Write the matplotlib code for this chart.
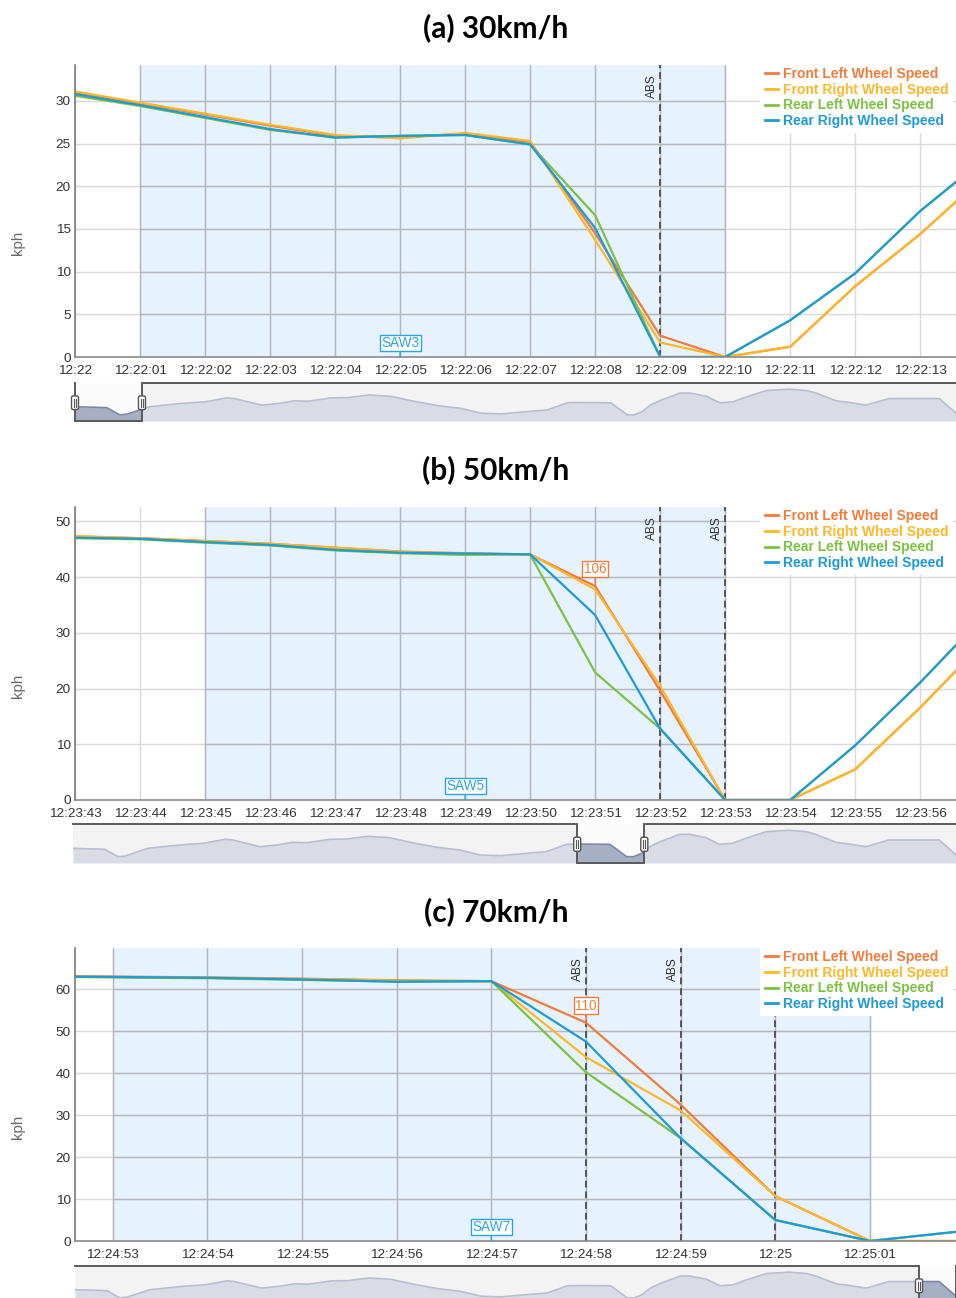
import numpy as np
import matplotlib
matplotlib.use("Agg")
import matplotlib.pyplot as plt
from matplotlib.patches import Rectangle, FancyBboxPatch

# ---------------------------------------------------------------- data
series_names = ["Front Left Wheel Speed", "Front Right Wheel Speed",
                "Rear Left Wheel Speed", "Rear Right Wheel Speed"]
series_colors = ["#f07c3c", "#fcb82a", "#7cc242", "#1e9bd6"]

# (a) 30 km/h, seconds after 12:22:00
t_a = [0, 1, 2, 3, 4, 5, 6, 7, 8, 9, 10, 11, 12, 13, 14]
fl_a = [31.0, 29.7, 28.4, 27.1, 25.9, 25.8, 26.1, 25.2, 14.5, 2.5, 0, 1.2, 8.3, 14.4, 21.3]
fr_a = [31.1, 29.8, 28.5, 27.2, 26.0, 25.6, 26.25, 25.3, 13.7, 1.7, 0, 1.2, 8.3, 14.4, 21.3]
rl_a = [30.6, 29.4, 28.0, 26.6, 25.7, 25.9, 26.0, 24.9, 16.6, 0, 0, 4.3, 9.8, 17.1, 23.3]
rr_a = [30.8, 29.5, 28.1, 26.7, 25.7, 25.9, 26.0, 24.9, 15.1, 0, 0, 4.3, 9.8, 17.1, 23.3]
ticks_a = ["12:22", "12:22:01", "12:22:02", "12:22:03", "12:22:04", "12:22:05",
           "12:22:06", "12:22:07", "12:22:08", "12:22:09", "12:22:10",
           "12:22:11", "12:22:12", "12:22:13"]

# (b) 50 km/h, seconds after 12:23:43
t_b = [0, 1, 2, 3, 4, 5, 6, 7, 8, 9, 10, 11, 12, 13, 14]
fl_b = [47.3, 47.0, 46.5, 46.0, 45.3, 44.6, 44.3, 44.1, 38.4, 19.6, 0, 0, 5.5, 16.6, 28.6]
fr_b = [47.4, 47.0, 46.5, 46.0, 45.3, 44.55, 44.2, 44.1, 37.8, 20.5, 0, 0, 5.5, 16.6, 28.6]
rl_b = [47.0, 46.8, 46.2, 45.7, 44.8, 44.3, 44.0, 44.1, 22.9, 12.8, 0, 0, 9.8, 21.1, 33.3]
rr_b = [47.1, 46.9, 46.3, 45.8, 44.9, 44.4, 44.25, 44.1, 33.2, 12.8, 0, 0, 9.8, 21.1, 33.3]
ticks_b = ["12:23:43", "12:23:44", "12:23:45", "12:23:46", "12:23:47", "12:23:48",
           "12:23:49", "12:23:50", "12:23:51", "12:23:52", "12:23:53",
           "12:23:54", "12:23:55", "12:23:56"]

# (c) 70 km/h, seconds after 12:24:53
t_c = [-1, 0, 1, 2, 3, 4, 5, 6, 7, 8, 9]
fl_c = [63.3, 63.0, 62.8, 62.5, 62.1, 61.9, 52.0, 32.5, 10.7, 0, 0]
fr_c = [63.2, 62.9, 62.7, 62.4, 62.0, 61.9, 43.8, 31.1, 10.7, 0, 0]
rl_c = [63.0, 62.8, 62.6, 62.2, 61.8, 61.9, 40.2, 24.5, 5.0, 0, 2.4]
rr_c = [63.1, 62.9, 62.7, 62.3, 61.75, 61.9, 47.5, 24.5, 5.0, 0, 2.4]
ticks_c = ["12:24:53", "12:24:54", "12:24:55", "12:24:56", "12:24:57",
           "12:24:58", "12:24:59", "12:25", "12:25:01"]

titles = ["(a) 30km/h", "(b) 50km/h", "(c) 70km/h"]
abs_times = [[9], [9, 10], [5, 6, 7]]
braking_bands = [(1, 10), (2, 10), (0, 8)]
saw_flags = [(5, "SAW3"), (6, "SAW5"), (4, "SAW7")]
wheel_flags = [None, (8, "106"), (5, "110")]

# overview (navigator) trace of the whole recording, position 0..1, level 0..1
overview_pos = [0.000, 0.036, 0.051, 0.059, 0.085, 0.121, 0.148, 0.172, 0.181,
                0.212, 0.231, 0.249, 0.265, 0.291, 0.310, 0.334, 0.359, 0.382,
                0.412, 0.438, 0.461, 0.484, 0.514, 0.536, 0.559, 0.570, 0.608,
                0.627, 0.635, 0.644, 0.653, 0.665, 0.687, 0.698, 0.717, 0.732,
                0.747, 0.762, 0.785, 0.811, 0.830, 0.841, 0.864, 0.879, 0.898,
                0.924, 0.981, 1.000]
overview_level = [0.377, 0.351, 0.162, 0.179, 0.377, 0.462, 0.505, 0.608, 0.590,
                  0.418, 0.462, 0.531, 0.521, 0.608, 0.615, 0.685, 0.649, 0.531,
                  0.403, 0.333, 0.205, 0.187, 0.249, 0.290, 0.479, 0.487, 0.479,
                  0.162, 0.162, 0.249, 0.418, 0.546, 0.736, 0.736, 0.649, 0.479,
                  0.505, 0.633, 0.803, 0.838, 0.803, 0.736, 0.531, 0.487, 0.418,
                  0.590, 0.590, 0.205]
overview_windows = [(0.0, 0.076), (0.571, 0.647), (0.958, 1.0)]

# ---------------------------------------------------------------- layout
W, H = 956, 1298
fig = plt.figure(figsize=(W / 100, H / 100), dpi=100)
fig.patch.set_facecolor("white")

TICK_FONT = dict(family="Liberation Sans", size=9.7, color="#333333")
GRID_LIGHT = "#dadada"
GRID_DARK = "#b3b7be"
BAND = "#e6f2fd"


def px_axes(left, top, right, bottom):
    return fig.add_axes([left / W, 1 - bottom / H, (right - left) / W, (bottom - top) / H])


panels = [
    dict(box=(75, 65, 956, 357), nav=(75, 383, 956, 421), title_y=28,
         xlim=(0, 13.55), ylim=(0, 34.2), yticks=range(0, 31, 5),
         t=t_a, ys=[fl_a, fr_a, rl_a, rr_a], xt=ticks_a),
    dict(box=(75, 507, 956, 800), nav=(73, 824, 956, 863), title_y=470,
         xlim=(0, 13.55), ylim=(0, 52.6), yticks=range(0, 51, 10),
         t=t_b, ys=[fl_b, fr_b, rl_b, rr_b], xt=ticks_b),
    dict(box=(75, 948, 956, 1241), nav=(75, 1266, 956, 1304), title_y=912,
         xlim=(-0.40, 8.91), ylim=(0, 69.8), yticks=range(0, 61, 10),
         t=t_c, ys=[fl_c, fr_c, rl_c, rr_c], xt=ticks_c),
]

for i, p in enumerate(panels):
    ax = px_axes(*p["box"])
    x0, x1 = p["xlim"]
    y0, y1 = p["ylim"]
    ax.set_xlim(x0, x1)
    ax.set_ylim(y0, y1)
    ax.set_facecolor("white")
    ax_w = p["box"][2] - p["box"][0]
    ax_h = p["box"][3] - p["box"][1]

    xt_pos = list(range(len(p["xt"])))
    yt = list(p["yticks"])

    # braking band and grid
    b0, b1 = braking_bands[i]
    ax.axvspan(b0, b1, color=BAND, lw=0, zorder=0.5)
    for y in yt[1:]:
        ax.axhline(y, color=GRID_LIGHT, lw=1, zorder=1)
    for x in xt_pos:
        ax.axvline(x, color=GRID_LIGHT, lw=1, zorder=1)
    ax.hlines(yt[1:], b0, b1, color=GRID_DARK, lw=1, zorder=1.1)
    ax.vlines([x for x in xt_pos if b0 <= x <= b1], y0, y1, color=GRID_DARK, lw=1, zorder=1.1)

    # ABS events
    for ta in abs_times[i]:
        ax.axvline(ta, color="#555555", lw=1.4, ls=(0, (3.5, 2)), zorder=2)
        ax.annotate("ABS", xy=(ta, 1), xycoords=("data", "axes fraction"),
                    xytext=(-2, -9), textcoords="offset pixels", rotation=90,
                    ha="right", va="top", fontsize=8.6, family="Liberation Sans",
                    color="#333333", zorder=2)

    # wheel speed lines
    handles = []
    for name, col, yv in zip(series_names, series_colors, p["ys"]):
        h, = ax.plot(p["t"], yv, color=col, lw=1.6, label=name, zorder=3,
                     solid_joinstyle="round")
        handles.append(h)

    # flags
    ts, txt = saw_flags[i]
    ax.annotate(txt, xy=(ts, 0), xytext=(0, 7), textcoords="offset pixels",
                ha="center", va="bottom", color="#2aa5de", fontsize=9.8,
                family="Liberation Sans",
                bbox=dict(boxstyle="square,pad=0.1", fc="white", ec="#2aa5de", lw=1),
                arrowprops=dict(arrowstyle="-", color="#2aa5de", lw=1, shrinkA=0, shrinkB=0),
                zorder=6, annotation_clip=False)
    if wheel_flags[i] is not None:
        tw, txt = wheel_flags[i]
        yw = p["ys"][0][p["t"].index(tw)]
        ax.annotate(txt, xy=(tw, yw), xytext=(0, 10), textcoords="offset pixels",
                    ha="center", va="bottom", color="#f07c3c", fontsize=9.8,
                    family="Liberation Sans",
                    bbox=dict(boxstyle="square,pad=0.1", fc="white", ec="#f07c3c", lw=1),
                    arrowprops=dict(arrowstyle="-", color="#f07c3c", lw=1, shrinkA=0, shrinkB=0),
                    zorder=6)

    # axes styling
    ax.set_xticks(xt_pos)
    ax.set_xticklabels(p["xt"], **TICK_FONT)
    ax.set_yticks(yt)
    ax.set_yticklabels([str(v) for v in yt], **TICK_FONT)
    ax.tick_params(axis="both", length=0)
    ax.tick_params(axis="x", pad=6)
    ax.tick_params(axis="y", pad=3)
    for s in ("top", "right"):
        ax.spines[s].set_visible(False)
    ax.spines["left"].set_color("#7a7a7a")
    ax.spines["bottom"].set_color("#8a8a8a")
    ax.spines["left"].set_linewidth(1.2)
    ax.spines["bottom"].set_linewidth(1.2)
    ax.spines["left"].set_zorder(4)
    ax.spines["bottom"].set_zorder(4)
    ax.set_ylabel("kph", family="Liberation Sans", size=10.8, color="#666666")
    ax.yaxis.set_label_coords(-0.057, 0.39)

    leg = ax.legend(handles=handles, loc="upper right",
                    bbox_to_anchor=(1.0 - 3 / ax_w, 1.0 + 3 / ax_h),
                    frameon=True, fancybox=False, facecolor="white", edgecolor="none",
                    framealpha=1, borderaxespad=0, borderpad=0.35, handlelength=0.95,
                    handletextpad=0.3, labelspacing=0.13, labelcolor="linecolor",
                    prop=dict(family="Liberation Sans", weight="bold", size=10.0))
    leg.set_zorder(10)
    for ln in leg.get_lines():
        ln.set_linewidth(2)

    fig.text(496 / W, 1 - p["title_y"] / H, titles[i], ha="center", va="center",
             family="Lato", weight="bold", size=21.5, color="black")

    # navigator
    nav = px_axes(*p["nav"])
    nav.set_xlim(0, 1)
    nav.set_ylim(0, 1)
    nav.axis("off")
    nav.add_patch(Rectangle((0, 0), 1, 1, transform=nav.transAxes, color="#f3f3f3", zorder=0))
    nav.fill_between(overview_pos, overview_level, 0, color="#d9dce4", lw=0, zorder=1)
    nav.plot(overview_pos, overview_level, color="#b8bed0", lw=1.2, zorder=2)
    s0, s1 = overview_windows[i]
    nav.add_patch(Rectangle((s0, 0), s1 - s0, 1, color="#fbfbfb", lw=0, zorder=2.5))
    clip = Rectangle((s0, 0), s1 - s0, 1, transform=nav.transData)
    sel_fill = nav.fill_between(overview_pos, overview_level, 0, color="#a7afc5", lw=0, zorder=3)
    sel_fill.set_clip_path(clip)
    sel_line, = nav.plot(overview_pos, overview_level, color="#7d88a6", lw=1.2, zorder=3.5)
    sel_line.set_clip_path(clip)
    nav.plot([0, s0, s0, s1, s1, 1], [1, 1, 0, 0, 1, 1], color="#5a5a5a", lw=1.4,
             zorder=4, clip_on=False, solid_joinstyle="miter")
    nav_w = p["nav"][2] - p["nav"][0]
    nav_h = p["nav"][3] - p["nav"][1]
    hw = 7 / nav_w
    for s in (s0, s1):
        if s >= 0.999:
            continue
        nav.add_patch(FancyBboxPatch((s - hw / 2, 0.30), hw, 0.36,
                                     boxstyle="round,pad=0,rounding_size=0.002",
                                     mutation_aspect=nav_w / nav_h,
                                     fc="white", ec="#555555", lw=1, zorder=5, clip_on=False))
        nav.plot([s - hw * 0.15, s - hw * 0.15], [0.38, 0.58], color="#555555", lw=0.8,
                 zorder=6, clip_on=False)
        nav.plot([s + hw * 0.15, s + hw * 0.15], [0.38, 0.58], color="#555555", lw=0.8,
                 zorder=6, clip_on=False)

fig.savefig("out.png", dpi=100, facecolor="white")
